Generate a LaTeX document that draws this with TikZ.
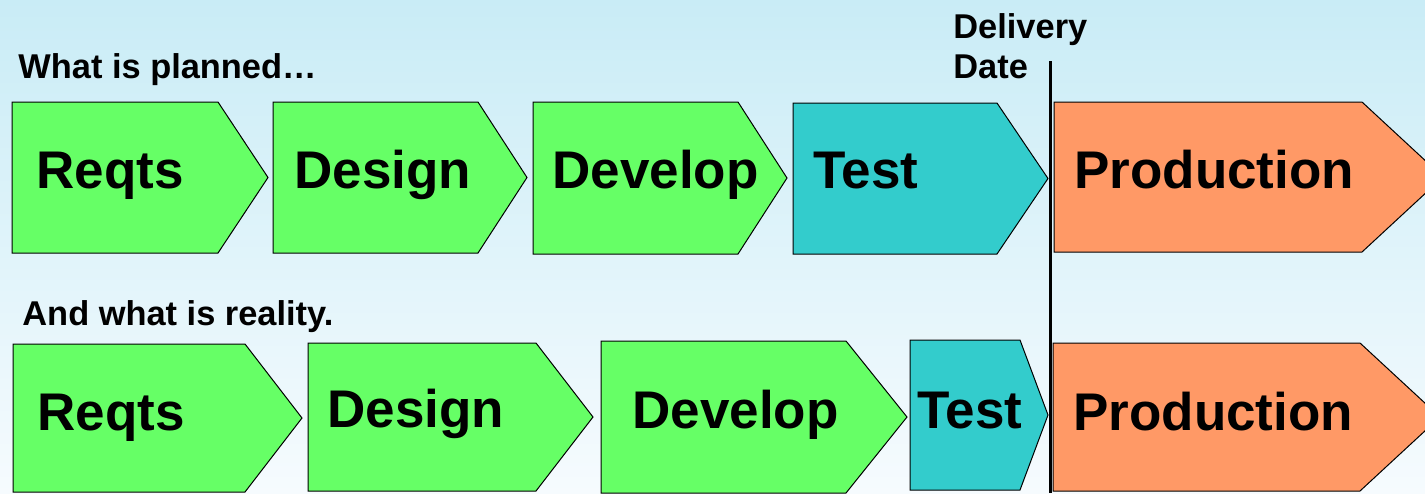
\documentclass[tikz,border=0pt]{standalone}
\usepackage{fontspec}
\setmainfont{Liberation Sans}
\usepackage{tikz}

\definecolor{bgtop}{RGB}{201,236,246}
\definecolor{bgbot}{RGB}{246,251,254}
\definecolor{phasegreen}{RGB}{102,255,102}
\definecolor{phaseteal}{RGB}{51,204,204}
\definecolor{phaseorange}{RGB}{255,153,102}

% left, tip start, tip, top, bottom, colour
\newcommand{\phasebox}[6]{%
  \filldraw[fill=#6,draw=black,line width=0.5pt,line join=miter]
    (#1,#4) -- (#2,#4) -- (#3,{(#4+#5)/2}) -- (#2,#5) -- (#1,#5) -- cycle;}

\begin{document}
\begin{tikzpicture}[x=0.5pt,y=-0.5pt]
\tikzstyle{phase}=[anchor=base west,inner sep=0,font=\fontsize{26.5}{30}\selectfont\bfseries];
\tikzstyle{caption}=[anchor=base west,inner sep=0,font=\fontsize{17.2}{20}\selectfont\bfseries];
\clip (0,0) rectangle (1425,493);
\shade[top color=bgtop,bottom color=bgbot] (0,0) rectangle (1425,493);

% planned
\node[caption] (planned) at (18,78) {What is planned\dots};
\phasebox{12}{218}{268}{102}{253}{phasegreen}
\phasebox{273}{478}{527}{102}{253}{phasegreen}
\phasebox{533}{738}{787}{102}{254}{phasegreen}
\phasebox{793}{997}{1048}{103}{254}{phaseteal}
\phasebox{1054}{1362}{1443}{102}{252}{phaseorange}
\node[phase] (reqtsA) at (36,188) {Reqts};
\node[phase] (designA) at (294,188) {Design};
\node[phase] (developA) at (552,188) {Develop};
\node[phase] (testA) at (813,188) {Test};
\node[phase] (prodA) at (1074,188) {Production};

% reality
\node[caption] (reality) at (22,325) {And what is reality.};
\phasebox{13}{245}{302}{344}{492}{phasegreen}
\phasebox{308}{536}{593}{343}{491}{phasegreen}
\phasebox{601}{846}{907}{341}{493}{phasegreen}
\phasebox{910}{1020}{1048}{340}{490}{phaseteal}
\phasebox{1053}{1360}{1440}{343}{491}{phaseorange}
\node[phase] (reqtsB) at (37,430) {Reqts};
\node[phase] (designB) at (327,427) {Design};
\node[phase] (developB) at (632,428) {Develop};
\node[phase] (testB) at (917,428) {Test};
\node[phase] (prodB) at (1073,430) {Production};

% delivery date
\node[caption] (delivery) at (953,38) {Delivery};
\node[caption] (date) at (953,78) {Date};
\coordinate (dtop) at (1050,61);
\coordinate (dbot) at (1050,493);
\draw[line width=1.5pt] (dtop) -- (dbot);
\end{tikzpicture}
\end{document}
